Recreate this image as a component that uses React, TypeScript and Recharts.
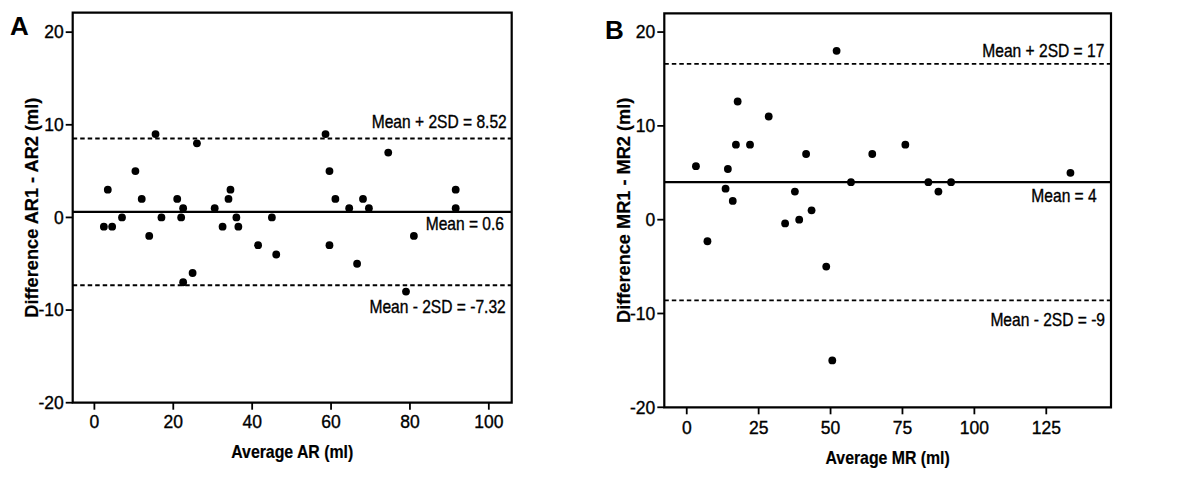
import React from 'react';
import {
  ScatterChart,
  Scatter,
  XAxis,
  YAxis,
  ReferenceLine,
  ReferenceArea,
} from 'recharts';

// Panel A: aortic regurgitation, read 1 vs read 2
const arAverage = [
  2.4, 3.4, 4.5, 7.0, 10.4, 12.0, 13.9, 15.5, 17.0, 21.0, 22.0, 22.5, 22.5,
  24.9, 26.0, 30.5, 32.5, 34.0, 34.5, 36.0, 36.5, 41.5, 45.0, 46.1, 58.6,
  59.6, 59.6, 61.1, 64.6, 66.6, 68.1, 69.6, 74.5, 79.0, 81.0, 91.6, 91.6,
];
const arDifference = [
  -1, 3, -1, 0, 5, 2, -2, 9, 0, 2, 0, 1, -7, -6, 8, 1, -1, 2, 3, 0, -1, -3, 0,
  -4, 9, 5, -3, 2, 1, -5, 2, 1, 7, -8, -2, 3, 1,
];
const arMean = 0.6;
const arUpper = 8.52;
const arLower = -7.32;
const arXTicks = [0, 20, 40, 60, 80, 100];

// Panel B: mitral regurgitation
const mrAverage = [
  3.2, 7.2, 13.5, 14.3, 16.0, 17.1, 17.7, 22.0, 28.5, 34.2, 37.6, 39.1, 41.5,
  43.4, 48.5, 50.6, 52.1, 57.1, 64.5, 76.0, 84.0, 87.5, 91.9, 133.4,
];
const mrDifference = [
  5.7, -2.3, 3.3, 5.4, 2, 8, 12.6, 8, 11, -0.4, 3, 0, 7, 1, -5, -15, 18, 4, 7,
  8, 4, 3, 4, 5,
];
const mrMean = 4;
const mrUpper = 16.6;
const mrLower = -8.6;
const mrXTicks = [0, 25, 50, 75, 100, 125];

const yTicks = [-20, -10, 0, 10, 20];

const FONT = '"Liberation Sans", Arial, sans-serif';
// the source figure's text is a little squeezed horizontally
const SX = 0.88;
const FS = 17.7;

const toPoints = (xs: number[], ys: number[]) =>
  xs.map((x, i) => ({ x, y: ys[i] }));

const dot = (p: any) => <circle cx={p.cx} cy={p.cy} r={3.9} fill="#000" />;

function SqText({ x, y, anchor, dy, bold, size = FS, sx = SX, children }: any) {
  return (
    <text
      transform={`translate(${x},${y}) scale(${sx},1)`}
      textAnchor={anchor}
      dy={dy}
      fontSize={size}
      fontWeight={bold ? 'bold' : 'normal'}
      fontFamily={FONT}
      fill="#000"
      stroke="#000"
      strokeWidth={bold ? 0.2 : 0.35}
    >
      {children}
    </text>
  );
}

const XTick = (props: any) => (
  <SqText x={props.x} y={props.y} anchor="middle" dy="0.71em" size={17.5} sx={1}>
    {props.payload.value}
  </SqText>
);

const YTick = (props: any) => (
  <SqText x={props.x} y={props.y} anchor="end" dy="0.355em" size={17.5} sx={1}>
    {props.payload.value}
  </SqText>
);

const xTitle = (text: string, offset: number) => (props: any) => {
  const vb = props.viewBox || {};
  return (
    <SqText x={vb.x + vb.width / 2} y={vb.y + offset} anchor="middle" dy="0.71em" bold size={18}>
      {text}
    </SqText>
  );
};

const annotation = (text: string, right: number, dy: number) => (props: any) => {
  const vb = props.viewBox || {};
  return (
    <SqText x={vb.x + vb.width - right} y={vb.y + dy} anchor="end">
      {text}
    </SqText>
  );
};

interface PanelProps {
  letter: string;
  left: number;
  letterTop: number;
  letterLeft: number;
  data: { x: number; y: number }[];
  xDomain: [number, number];
  yDomain: [number, number];
  xTicks: number[];
  xTitle: string;
  yTitle: string;
  xTitleOffset: number;
  yTitleOffset: number;
  xTickMargin: number;
  margin: { top: number; right: number; bottom: number; left: number };
  yAxisWidth: number;
  lines: { value: number; dashed: boolean; text: string; right: number; dy: number }[];
}

function BlandAltman(p: PanelProps) {
  return (
    <div style={{ position: 'absolute', left: p.left, top: 0, width: 600, height: 497 }}>
      <div
        style={{
          position: 'absolute',
          left: p.letterLeft,
          top: p.letterTop,
          fontFamily: FONT,
          fontWeight: 'bold',
          fontSize: 26,
          lineHeight: '26px',
          color: '#000',
        }}
      >
        {p.letter}
      </div>
      <ScatterChart width={600} height={497} margin={p.margin} style={{ fontFamily: FONT }}>
        <XAxis
          type="number"
          dataKey="x"
          domain={p.xDomain}
          ticks={p.xTicks}
          interval={0}
          allowDataOverflow
          height={60}
          axisLine={false}
          tickSize={7}
          tickMargin={p.xTickMargin}
          tickLine={{ stroke: '#000', strokeWidth: 1.8 }}
          tick={XTick}
          label={{ position: 'insideTop', content: xTitle(p.xTitle, p.xTitleOffset) }}
        />
        <YAxis
          type="number"
          dataKey="y"
          domain={p.yDomain}
          ticks={yTicks}
          interval={0}
          allowDataOverflow
          width={p.yAxisWidth}
          axisLine={false}
          tickSize={7}
          tickMargin={2}
          tickLine={{ stroke: '#000', strokeWidth: 1.8 }}
          tick={YTick}
          label={{
            value: p.yTitle,
            angle: -90,
            position: 'insideLeft',
            offset: p.yTitleOffset,
            style: {
              textAnchor: 'middle',
              fontWeight: 'bold',
              fontSize: 18.2,
              fill: '#000',
              stroke: '#000',
              strokeWidth: 0.2,
            },
          }}
        />
        <ReferenceArea
          x1={p.xDomain[0]}
          x2={p.xDomain[1]}
          y1={p.yDomain[0]}
          y2={p.yDomain[1]}
          fill="none"
          stroke="#000"
          strokeWidth={2.2}
          fillOpacity={0}
        />
        {p.lines.map((l) => (
          <ReferenceLine
            key={l.text}
            y={l.value}
            stroke="#000"
            strokeWidth={l.dashed ? 1.8 : 2.2}
            strokeDasharray={l.dashed ? '4.5 3' : undefined}
            label={annotation(l.text, l.right, l.dy)}
          />
        ))}
        <Scatter data={p.data} fill="#000" shape={dot} isAnimationActive={false} />
      </ScatterChart>
    </div>
  );
}

export default function App() {
  return (
    <div
      style={{
        position: 'absolute',
        left: 0,
        top: 0,
        width: 1200,
        height: 497,
        background: '#fff',
      }}
    >
      <BlandAltman
        letter="A"
        left={0}
        letterLeft={10}
        letterTop={13}
        data={toPoints(arAverage, arDifference)}
        xDomain={[-5.5, 105.8]}
        yDomain={[-20, 22.1]}
        xTicks={arXTicks}
        xTitle="Average AR (ml)"
        yTitle="Difference AR1 - AR2 (ml)"
        xTitleOffset={42.3}
        yTitleOffset={31.7}
        xTickMargin={6.3}
        margin={{ top: 12.7, right: 88.3, bottom: 34.3, left: 0 }}
        yAxisWidth={72.7}
        lines={[
          { value: arUpper, dashed: true, text: 'Mean + 2SD = 8.52', right: 5, dy: -10.8 },
          { value: arMean, dashed: false, text: 'Mean = 0.6', right: 7.7, dy: 18.3 },
          { value: arLower, dashed: true, text: 'Mean - 2SD = -7.32', right: 6, dy: 28 },
        ]}
      />
      <BlandAltman
        letter="B"
        left={600}
        letterLeft={5}
        letterTop={17.3}
        data={toPoints(mrAverage, mrDifference)}
        xDomain={[-7.8, 147.5]}
        yDomain={[-20, 22]}
        xTicks={mrXTicks}
        xTitle="Average MR (ml)"
        yTitle="Difference MR1 - MR2 (ml)"
        xTitleOffset={44.4}
        yTitleOffset={23.3}
        xTickMargin={7.4}
        margin={{ top: 13.3, right: 89, bottom: 29.7, left: 0 }}
        yAxisWidth={64.3}
        lines={[
          { value: mrUpper, dashed: true, text: 'Mean + 2SD = 17', right: 6.7, dy: -7.3 },
          { value: mrMean, dashed: false, text: 'Mean = 4', right: 14.3, dy: 19.4 },
          { value: mrLower, dashed: true, text: 'Mean - 2SD = -9', right: 6, dy: 26 },
        ]}
      />
    </div>
  );
}
